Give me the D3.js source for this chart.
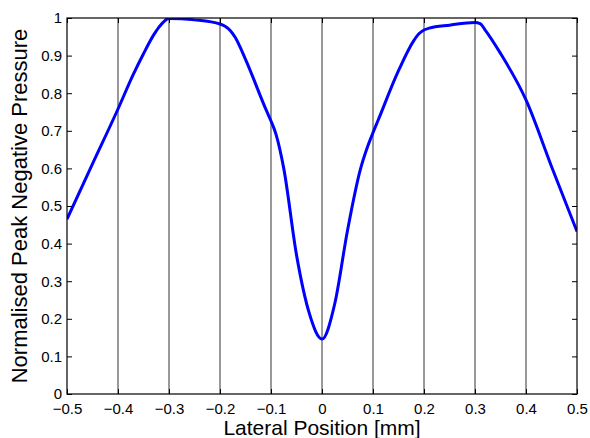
<!doctype html>
<html lang="en">
<head>
    <meta charset="utf-8">
    <title>Normalised Peak Negative Pressure</title>
    <script src='https://d3js.org/d3.v7.min.js'></script>
    <style>
        body { margin: 0; background: white; }
        svg text {
            font-family: "Liberation Sans", Arial, sans-serif;
            fill: black;
        }
    </style>
</head>
<body>
    <div id="chart"></div>
    <script>
        // Lateral position (mm) and normalised peak negative pressure
        var positions = [-0.5, -0.45, -0.4, -0.37, -0.35, -0.33, -0.32, -0.3, -0.25, -0.2, -0.19, -0.18, -0.17, -0.15,
                         -0.11, -0.1, -0.09, -0.075, -0.05, -0.025, 0, 0.025, 0.05, 0.075, 0.09, 0.1, 0.11,
                         0.15, 0.18, 0.19, 0.2, 0.21, 0.25, 0.3, 0.31, 0.32, 0.35, 0.4, 0.45, 0.5];
        var pressure  = [0.465, 0.612, 0.758, 0.85, 0.905, 0.955, 0.975, 0.999, 0.995, 0.984, 0.978, 0.967, 0.948, 0.89,
                         0.757, 0.726, 0.69, 0.6, 0.37, 0.215, 0.146, 0.24, 0.435, 0.596, 0.66, 0.695, 0.728,
                         0.86, 0.94, 0.958, 0.968, 0.973, 0.981, 0.988, 0.985, 0.968, 0.906, 0.782, 0.605, 0.432];

        // Tick values
        var xTicks = [-0.5, -0.4, -0.3, -0.2, -0.1, 0, 0.1, 0.2, 0.3, 0.4, 0.5];
        var yTicks = [0, 0.1, 0.2, 0.3, 0.4, 0.5, 0.6, 0.7, 0.8, 0.9, 1];

        // Graph size
        var width  = 590;
        var height = 438;
        var margin = { top: 18, right: 13, bottom: 44, left: 67 };
        var innerW = width - margin.left - margin.right;
        var innerH = height - margin.top - margin.bottom;

        var svg = d3.select("#chart")
            .append("svg")
            .attr("width", width)
            .attr("height", height);

        var g = svg.append("g")
            .attr("transform", "translate(" + margin.left + "," + margin.top + ")");

        var x = d3.scaleLinear().domain([-0.5, 0.5]).range([0, innerW]);
        var y = d3.scaleLinear().domain([0, 1]).range([innerH, 0]);

        // Vertical grid lines
        g.selectAll("line.grid")
            .data(xTicks.slice(1, -1))
            .enter()
            .append("line")
            .attr("class", "grid")
            .attr("x1", function(d) { return x(d); })
            .attr("x2", function(d) { return x(d); })
            .attr("y1", 0)
            .attr("y2", innerH)
            .attr("stroke", "#333")
            .attr("stroke-width", 1);

        // Clip the curve to the axes
        svg.append("clipPath").attr("id", "clip")
            .append("rect")
            .attr("width", innerW)
            .attr("height", innerH);

        var line = d3.line()
            .x(function(d, i) { return x(positions[i]); })
            .y(function(d) { return y(d); })
            .curve(d3.curveMonotoneX);

        g.append("path")
            .datum(pressure)
            .attr("clip-path", "url(#clip)")
            .attr("fill", "none")
            .attr("stroke", "#0000ff")
            .attr("stroke-width", 3)
            .attr("stroke-linejoin", "round")
            .attr("d", line);

        // Axes (MATLAB style: ticks inward, box all round)
        var tickSize = 5;
        var fmt = function(d) { return d === 0 ? "0" : (d === 1 ? "1" : d3.format(".1f")(d).replace("-", "\u2212")); };

        g.append("g")
            .attr("transform", "translate(0," + innerH + ")")
            .call(d3.axisBottom(x).tickValues(xTicks).tickSizeInner(-tickSize).tickSizeOuter(0).tickPadding(9).tickFormat(fmt));

        g.append("g")
            .call(d3.axisLeft(y).tickValues(yTicks).tickSizeInner(-tickSize).tickSizeOuter(0).tickPadding(5).tickFormat(fmt));

        g.append("g")
            .attr("transform", "translate(" + innerW + ",0)")
            .call(d3.axisRight(y).tickValues(yTicks).tickSizeInner(-tickSize).tickSizeOuter(0).tickFormat(""));

        g.append("g")
            .call(d3.axisTop(x).tickValues(xTicks).tickSizeInner(-tickSize).tickSizeOuter(0).tickFormat(""));

        svg.selectAll(".domain").remove();
        svg.selectAll(".tick line").attr("stroke", "#000");
        svg.selectAll(".tick text")
            .style("font-family", "'Liberation Sans', Arial, sans-serif")
            .style("font-size", "15px");

        // Box
        g.append("rect")
            .attr("width", innerW)
            .attr("height", innerH)
            .attr("fill", "none")
            .attr("stroke", "#000")
            .attr("stroke-width", 1.2);

        // Axis labels
        svg.append("text")
            .attr("x", margin.left + innerW / 2)
            .attr("y", 435)
            .attr("text-anchor", "middle")
            .style("font-size", "21px")
            .text("Lateral Position [mm]");

        svg.append("text")
            .attr("transform", "translate(27," + (margin.top + innerH / 2) + ") rotate(-90)")
            .attr("text-anchor", "middle")
            .style("font-size", "22px")
            .text("Normalised Peak Negative Pressure");
    </script>
</body>
</html>
